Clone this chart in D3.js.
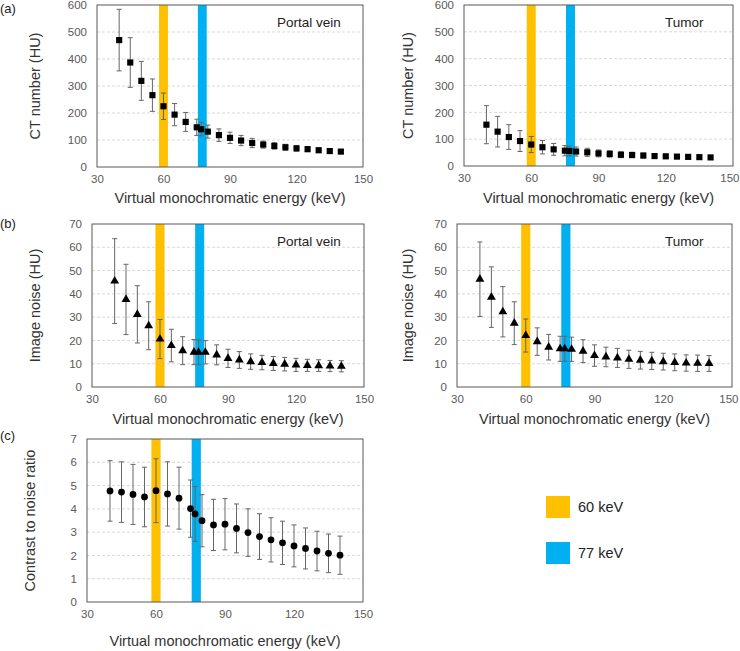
<!DOCTYPE html>
<html><head><meta charset="utf-8">
<script src="https://cdn.jsdelivr.net/npm/d3@7"></script>
<style>body{margin:0;background:#fff}svg{display:block;font-family:"Liberation Sans",Arial,sans-serif}</style>
</head><body>
<svg id="c" width="740" height="651"></svg>
<script>
const energies = [40,45,50,55,60,65,70,75,77,80,85,90,95,100,105,110,115,120,125,130,135,140];
const portalCT   = [470,387,319,266,225,194,167,147,140,131,118,108,98,89,83,78,73,69,66,62,59,57];
const portalCTsd = [114,92,72,60,49,41,35,30,25,24,23,21,19,17,13,12,11,10,9,8,7,7];
const tumorCT    = [154,128,108,93,80,70,62,57,56,54,51,47,45,42,41,39,37,36,35,34,33,32];
const tumorCTsd  = [71,57,46,39,30,25,22,19,18,17,15,13,12,11,10,9,8,8,7,7,6,6];
const portalNoise   = [45.5,37.6,31.2,26.3,20.6,17.8,15.6,15.0,14.9,14.9,13.8,12.3,11.6,10.9,10.5,10.1,9.8,9.5,9.3,9.2,9.0,8.9];
const portalNoiseSd = [18.2,15.1,12.3,10.3,8.4,7.0,6.0,5.4,5.3,5.0,4.3,3.9,3.6,3.3,3.1,3.0,2.9,2.8,2.6,2.5,2.4,2.4];
const tumorNoise    = [46.3,38.6,32.3,27.4,22.1,19.5,17.1,16.4,16.4,16.2,15.4,13.5,12.9,12.5,11.9,11.5,11.2,10.9,10.6,10.3,10.2,10.1];
const tumorNoiseSd  = [16.0,13.0,10.8,9.2,7.1,5.9,5.5,5.4,5.4,5.2,4.9,4.6,4.2,4.1,3.9,3.8,3.7,3.6,3.6,3.5,3.5,3.4];
const cnr   = [4.77,4.72,4.62,4.51,4.78,4.64,4.46,4.01,3.78,3.49,3.31,3.34,3.16,2.98,2.81,2.67,2.54,2.41,2.30,2.19,2.09,2.01];
const cnrSd = [1.3,1.3,1.29,1.28,1.37,1.38,1.33,1.23,1.18,1.12,1.1,1.1,1.05,1.02,0.98,0.95,0.93,0.9,0.88,0.85,0.83,0.82];
const xTicks = [30,60,90,120,150];
const ctTicks = [0,100,200,300,400,500,600];
const noiseTicks = [0,10,20,30,40,50,60,70];
const cnrTicks = [0,1,2,3,4,5,6,7];
const bands = [{label:"60 keV", from:58, to:62, color:"#FFC000"},{label:"77 keV", from:75.5, to:79.5, color:"#00B0F0"}];

const svg = d3.select("#c");

function panel(o){
  const g = svg.append("g");
  const x = d3.scaleLinear().domain([30,150]).range([o.x0,o.x1]);
  const y = d3.scaleLinear().domain([0,d3.max(o.yTicks)]).range([o.y1,o.y0]);
  g.selectAll(".grid").data(o.yTicks.slice(1,-1)).join("line")
    .attr("x1",o.x0).attr("x2",o.x1).attr("y1",d=>y(d)).attr("y2",d=>y(d))
    .attr("stroke","#d9d9d9").attr("stroke-width",1).attr("stroke-dasharray","3,2");
  g.selectAll(".band").data(bands).join("rect")
    .attr("x",d=>x(d.from)).attr("width",d=>x(d.to)-x(d.from))
    .attr("y",o.y0).attr("height",o.y1-o.y0).attr("fill",d=>d.color);
  g.append("rect").attr("x",o.x0).attr("y",o.y0).attr("width",o.x1-o.x0).attr("height",o.y1-o.y0)
    .attr("fill","none").attr("stroke","#595959").attr("stroke-width",1);
  const ax = d3.axisBottom(x).tickValues(xTicks).tickFormat(d3.format("d")).tickSize(0).tickPadding(8);
  const xa = g.append("g").attr("transform",`translate(0,${o.y1})`).call(ax);
  xa.select(".domain").remove();
  xa.selectAll("text").attr("fill","#595959").style("font-size","11.5px");
  if(o.clampLast) xa.selectAll("text").filter(d=>d===150).attr("text-anchor","end").attr("x",o.clampLast);
  const ay = d3.axisLeft(y).tickValues(o.yTicks).tickFormat(d3.format("d")).tickSize(0).tickPadding(o.tpad||10);
  const ya = g.append("g").attr("transform",`translate(${o.x0},0)`).call(ay);
  ya.select(".domain").remove();
  ya.selectAll("text").attr("fill","#595959").style("font-size","11.5px");
  g.append("text").attr("x",(o.x0+o.x1)/2).attr("y",o.xtY).attr("text-anchor","middle")
    .attr("fill","#333").style("font-size","14.5px").text("Virtual monochromatic energy (keV)");
  g.append("text").attr("transform",`translate(${o.ytX},${(o.y0+o.y1)/2}) rotate(-90)`)
    .attr("text-anchor","middle").attr("dy","0.35em").attr("fill","#333").style("font-size","14.5px").text(o.ytitle);
  if(o.label) g.append("text").attr("x",o.labX).attr("y",o.y0+22).attr("fill","#222").style("font-size","13.5px").text(o.label);
  const data = energies.map((e,i)=>({e, v:o.vals[i], s:o.sd[i]}));
  const eb = g.selectAll(".eb").data(data).join("g").attr("stroke","#666").attr("stroke-width",1);
  eb.append("line").attr("x1",d=>x(d.e)).attr("x2",d=>x(d.e)).attr("y1",d=>y(d.v+d.s)).attr("y2",d=>y(d.v-d.s));
  eb.append("line").attr("x1",d=>x(d.e)-2.5).attr("x2",d=>x(d.e)+2.5).attr("y1",d=>y(d.v+d.s)).attr("y2",d=>y(d.v+d.s));
  eb.append("line").attr("x1",d=>x(d.e)-2.5).attr("x2",d=>x(d.e)+2.5).attr("y1",d=>y(d.v-d.s)).attr("y2",d=>y(d.v-d.s));
  const sym = d3.symbol().type(o.sym).size(o.symSize);
  g.selectAll(".pt").data(data).join("path")
    .attr("transform",d=>`translate(${x(d.e)},${y(d.v)})`).attr("d",sym).attr("fill","#000");
}

panel({x0:97,x1:363,y0:5,y1:167,yTicks:ctTicks,vals:portalCT,sd:portalCTsd,ytitle:"CT number (HU)",ytX:35,xtY:203,label:"Portal vein",labX:277,sym:d3.symbolSquare,symSize:38});
panel({x0:464,x1:733,y0:5,y1:166,yTicks:ctTicks,vals:tumorCT,sd:tumorCTsd,ytitle:"CT number (HU)",ytX:408,xtY:203,label:"Tumor",labX:665,sym:d3.symbolSquare,symSize:38,clampLast:6});
panel({x0:92,x1:364,y0:224,y1:387,yTicks:noiseTicks,vals:portalNoise,sd:portalNoiseSd,ytitle:"Image noise (HU)",ytX:35,xtY:424,label:"Portal vein",labX:277,sym:d3.symbolTriangle,symSize:34});
panel({x0:457,x1:732,y0:224,y1:387,yTicks:noiseTicks,vals:tumorNoise,sd:tumorNoiseSd,ytitle:"Image noise (HU)",ytX:408,xtY:424,label:"Tumor",labX:665,sym:d3.symbolTriangle,symSize:34,clampLast:6});
panel({x0:87,x1:363,y0:439,y1:602,yTicks:cnrTicks,vals:cnr,sd:cnrSd,ytitle:"Contrast to noise ratio",ytX:30,xtY:646,label:null,sym:d3.symbolCircle,symSize:36});

[["(a)",13],["(b)",228],["(c)",440]].forEach(([t,yy])=>svg.append("text").attr("x",0).attr("y",yy).attr("fill","#222").style("font-size","13px").text(t));

const lg = svg.append("g");
lg.selectAll("rect").data(bands).join("rect").attr("x",546).attr("y",(d,i)=>496+i*46).attr("width",24).attr("height",22).attr("fill",d=>d.color);
lg.selectAll("text").data(bands).join("text").attr("x",578).attr("y",(d,i)=>507+i*46).attr("dy","0.35em")
  .attr("fill","#222").style("font-size","14.5px").text(d=>d.label);
</script>
</body></html>
